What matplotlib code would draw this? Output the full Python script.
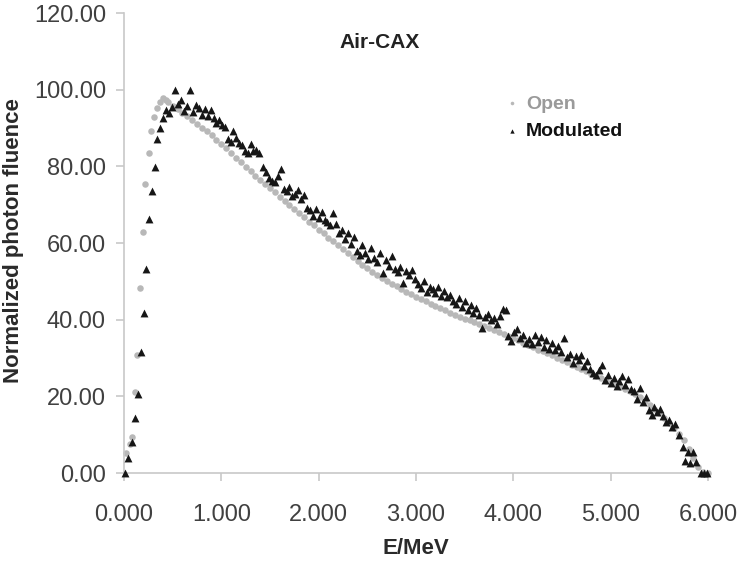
import numpy as np
import matplotlib
matplotlib.use("Agg")
import matplotlib.pyplot as plt
from matplotlib.ticker import FormatStrFormatter

plt.rcParams['font.family'] = ['Liberation Sans', 'DejaVu Sans']

# Open beam spectrum (grey dots)
open_e = [0.02, 0.06, 0.08, 0.11, 0.13, 0.16, 0.20, 0.22, 0.26, 0.28, 0.31, 0.34, 0.37, 0.40, 0.43,
          0.45, 0.50, 0.55, 0.60, 0.65, 0.70, 0.75, 0.80, 0.85, 0.90, 0.95, 1.00, 1.05, 1.10, 1.15,
          1.20, 1.25, 1.30, 1.35, 1.40, 1.45, 1.50, 1.55, 1.60, 1.65, 1.70, 1.75, 1.80, 1.85, 1.90,
          1.95, 2.00, 2.05, 2.10, 2.15, 2.20, 2.25, 2.30, 2.35, 2.40, 2.45, 2.50, 2.55, 2.60, 2.65,
          2.70, 2.75, 2.80, 2.85, 2.90, 2.95, 3.00, 3.05, 3.10, 3.15, 3.20, 3.25, 3.30, 3.35, 3.40,
          3.45, 3.50, 3.55, 3.60, 3.65, 3.70, 3.75, 3.80, 3.85, 3.90, 3.95, 4.00, 4.05, 4.10, 4.15,
          4.20, 4.25, 4.30, 4.35, 4.40, 4.45, 4.50, 4.55, 4.60, 4.65, 4.70, 4.75, 4.80, 4.85, 4.90,
          4.95, 5.00, 5.05, 5.10, 5.15, 5.20, 5.25, 5.30, 5.35, 5.40, 5.45, 5.50, 5.55, 5.60, 5.65,
          5.70, 5.75, 5.80, 5.85, 5.90, 5.95, 6.00]
open_v = [5.2, 7.5, 9.5, 21.2, 30.8, 48.2, 63.0, 75.5, 83.6, 89.1, 93.0, 95.2, 96.8, 97.8, 97.2,
          96.8, 95.8, 94.9, 94.0, 93.1, 92.1, 91.1, 90.1, 89.1, 88.1, 87.0, 85.9, 84.7, 83.5, 82.3,
          81.1, 79.9, 78.8, 77.6, 76.5, 75.4, 74.3, 73.2, 72.1, 71.0, 69.9, 68.9, 67.8, 66.8, 65.6,
          64.6, 63.5, 62.5, 61.4, 60.5, 59.4, 58.4, 57.3, 56.3, 55.3, 54.3, 53.4, 52.5, 51.7, 50.9,
          50.2, 49.4, 48.7, 48.0, 47.3, 46.6, 46.0, 45.4, 44.8, 44.2, 43.6, 43.0, 42.4, 41.8, 41.3,
          40.8, 40.3, 39.8, 39.3, 38.8, 38.3, 37.8, 37.3, 36.8, 36.3, 35.8, 35.2, 34.6, 34.0, 33.4,
          32.8, 32.2, 31.7, 31.2, 30.7, 30.1, 29.5, 28.9, 28.3, 27.7, 27.1, 26.5, 25.9, 25.3, 24.7,
          24.1, 23.5, 23.0, 22.5, 22.0, 21.4, 20.6, 19.7, 18.8, 17.8, 16.7, 15.6, 14.4, 13.1, 11.7,
          10.2, 8.5, 6.2, 4.0, 1.5, 0.2, 0.0]

# Modulated beam spectrum (black triangles)
mod_e = [0.01, 0.04, 0.08, 0.11, 0.14, 0.17, 0.21, 0.23, 0.26, 0.29, 0.32, 0.34, 0.37, 0.40, 0.43,
         0.46, 0.49, 0.52, 0.55, 0.59, 0.62, 0.65, 0.68, 0.71, 0.74, 0.77, 0.80, 0.83, 0.86, 0.89,
         0.92, 0.95, 0.98, 1.01, 1.04, 1.07, 1.10, 1.12, 1.15, 1.18, 1.21, 1.24, 1.27, 1.30, 1.33,
         1.36, 1.39, 1.43, 1.46, 1.49, 1.52, 1.55, 1.58, 1.61, 1.64, 1.67, 1.70, 1.73, 1.76, 1.79,
         1.82, 1.85, 1.88, 1.91, 1.94, 1.97, 2.00, 2.03, 2.06, 2.09, 2.12, 2.15, 2.18, 2.21, 2.24,
         2.27, 2.30, 2.33, 2.36, 2.39, 2.42, 2.45, 2.48, 2.51, 2.54, 2.57, 2.60, 2.63, 2.66, 2.69,
         2.72, 2.75, 2.78, 2.81, 2.84, 2.87, 2.90, 2.93, 2.96, 2.99, 3.02, 3.05, 3.08, 3.11, 3.14,
         3.17, 3.20, 3.23, 3.26, 3.29, 3.32, 3.35, 3.38, 3.41, 3.44, 3.47, 3.50, 3.53, 3.56, 3.59,
         3.62, 3.65, 3.68, 3.71, 3.74, 3.77, 3.80, 3.83, 3.86, 3.89, 3.92, 3.95, 3.98, 4.01, 4.04,
         4.07, 4.10, 4.13, 4.16, 4.19, 4.22, 4.25, 4.28, 4.31, 4.34, 4.37, 4.40, 4.43, 4.46, 4.49,
         4.52, 4.55, 4.58, 4.61, 4.64, 4.67, 4.70, 4.73, 4.76, 4.79, 4.82, 4.85, 4.88, 4.91, 4.94,
         4.97, 5.00, 5.03, 5.06, 5.09, 5.12, 5.15, 5.18, 5.21, 5.24, 5.27, 5.30, 5.33, 5.36, 5.39,
         5.42, 5.45, 5.48, 5.51, 5.54, 5.57, 5.60, 5.63, 5.66, 5.70, 5.74, 5.76, 5.79, 5.82, 5.85,
         5.88, 5.93, 5.96, 5.99]
mod_v = [0.0, 3.8, 8.2, 14.3, 20.5, 31.6, 41.8, 53.1, 66.2, 73.6, 79.9, 87.1, 89.9, 92.5, 94.8,
         94.0, 95.5, 100.0, 96.3, 97.3, 94.5, 95.8, 100.0, 94.2, 96.0, 95.2, 93.5, 95.0, 93.2, 94.8,
         92.5, 91.3, 92.0, 90.8, 90.2, 87.2, 86.4, 89.3, 87.5, 86.2, 85.5, 84.0, 83.5, 85.8, 83.9,
         84.2, 83.6, 79.8, 78.6, 77.0, 76.1, 76.0, 77.5, 79.4, 74.2, 73.5, 74.6, 72.3, 72.8, 73.9,
         71.6, 72.5, 69.2, 68.5, 67.0, 68.8, 66.4, 68.2, 66.0, 65.5, 64.6, 67.8, 65.0, 62.6, 63.5,
         61.0, 62.5, 59.8, 61.5, 58.0, 56.8, 59.4, 57.5, 55.9, 58.6, 56.2, 55.0, 57.3, 52.2, 55.6,
         54.0, 56.6, 53.1, 52.5, 53.8, 49.5, 52.8, 51.6, 52.9, 50.5, 49.2, 48.2, 50.0, 47.3, 48.6,
         48.0, 47.0, 48.4, 46.2, 47.6, 45.8, 46.4, 45.0, 44.0, 45.7, 43.3, 44.8, 42.6, 43.9, 41.8,
         43.0, 41.2, 37.8, 40.6, 41.5, 39.8, 40.4, 39.0, 40.9, 42.8, 42.4, 35.8, 34.5, 36.8, 37.6,
         35.2, 36.0, 34.0, 35.0, 33.6, 35.9, 34.2, 35.5, 33.0, 34.6, 32.4, 33.8, 32.0, 33.2, 31.5,
         35.2, 30.2, 31.0, 28.6, 30.4, 29.5, 30.8, 28.0, 29.2, 27.2, 26.0, 25.5, 26.8, 28.2, 24.3,
         25.6, 23.4, 24.8, 22.8, 24.0, 25.2, 23.0, 24.5, 22.0, 21.3, 19.2, 22.2, 18.6, 19.8, 16.5,
         15.2, 17.2, 16.0, 16.8, 14.9, 13.2, 13.8, 12.0, 12.8, 10.0, 6.8, 3.2, 5.6, 2.6, 5.5,
         2.8, 0.0, 0.0, 0.0]

x_ticks = [0, 1, 2, 3, 4, 5, 6]
y_ticks = [0, 20, 40, 60, 80, 100, 120]

fig = plt.figure(figsize=(7.38, 5.63), dpi=100)
ax = fig.add_axes([124 / 738, 1 - 473 / 563, 584 / 738, 460 / 563])

ax.scatter(open_e, open_v, s=22, marker='o', color='#b8b8b8', linewidths=0,
           label='Open', clip_on=False, zorder=2)
ax.scatter(mod_e, mod_v, s=32, marker='^', color='#161616', linewidths=0,
           label='Modulated', clip_on=False, zorder=3)

ax.set_xlim(0, 6)
ax.set_ylim(0, 120)
ax.set_xticks(x_ticks)
ax.set_yticks(y_ticks)
ax.xaxis.set_major_formatter(FormatStrFormatter('%.3f'))
ax.yaxis.set_major_formatter(FormatStrFormatter('%.2f'))

for side in ['top', 'right']:
    ax.spines[side].set_visible(False)
for side in ['left', 'bottom']:
    ax.spines[side].set_color('#c8c8c8')
    ax.spines[side].set_linewidth(1.2)
ax.tick_params(axis='both', colors='#c8c8c8', labelcolor='#404040', labelsize=17,
               length=6, width=1.2, direction='out')
ax.tick_params(axis='x', pad=16)
ax.tick_params(axis='y', pad=7)

ax.text(0.437, 0.935, 'Air-CAX', transform=ax.transAxes, ha='center', va='center',
        fontsize=15, fontweight='bold', color='#222222')

fig.text(14 / 738, 1 - 241 / 563, 'Normalized photon fluence', rotation=90,
         ha='center', va='center', fontsize=16, fontweight='bold', color='#2a2a2a')
fig.text(416 / 738, 1 - 548 / 563, 'E/MeV', ha='center', va='center',
         fontsize=16, fontweight='bold', color='#2a2a2a')

leg = ax.legend(loc='upper left', bbox_to_anchor=(0.625, 0.86), frameon=False,
                handlelength=0.6, handletextpad=0.4, labelspacing=0.5,
                markerscale=0.55, prop={'weight': 'bold', 'size': 14})
leg.get_texts()[0].set_color('#9a9a9a')
leg.get_texts()[1].set_color('#111111')

fig.savefig('out.png', dpi=100)
